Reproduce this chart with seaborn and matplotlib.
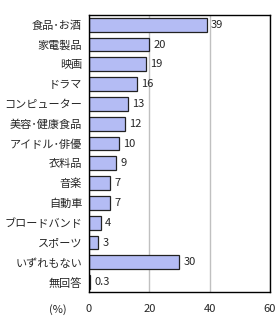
import numpy as np
import pandas as pd
import matplotlib
matplotlib.use('Agg')
import matplotlib.pyplot as plt
import seaborn as sns

# Chart data
categories = ['食品・お酒', '家電製品', '映画', 'ドラマ', 'コンピューター', '美容・健康食品',
              'アイドル・俳優', '衣料品', '音楽', '自動車', 'ブロードバンド', 'スポーツ',
              'いずれもない', '無回答']
values = [39, 20, 19, 16, 13, 12, 10, 9, 7, 7, 4, 3, 30, 0.3]
value_labels = ['39', '20', '19', '16', '13', '12', '10', '9', '7', '7', '4', '3', '30', '0.3']
x_ticks = [0, 20, 40, 60]

# half-width middle dot like the original labels
categories = [c.replace('・', '･') for c in categories]
df = pd.DataFrame({'category': categories, 'value': values})

sns.set_style('white')
plt.rcParams['font.family'] = ['Noto Sans CJK JP', 'DejaVu Sans']
fs = 8

fig = plt.figure(figsize=(2.8, 3.2), dpi=100)
ax = fig.add_axes([0.318, 0.0875, 0.646, 0.866])

sns.barplot(data=df, x='value', y='category', orient='h', ax=ax,
            color='#b4bcf4', saturation=1, width=0.7,
            edgecolor='#222222', linewidth=0.9)

ax.set_xlim(0, 60)
ax.set_xticks(x_ticks)
ax.set_xticklabels([str(t) for t in x_ticks], fontsize=fs)
ax.set_ylim(len(categories) - 0.5, -0.5)
ax.set_xlabel('')
ax.set_ylabel('')
ax.tick_params(axis='y', labelsize=fs, length=0, pad=5)
ax.tick_params(axis='x', length=0, pad=9)
ax.set_yticks(np.arange(len(categories)) + 0.5, minor=True)
ax.tick_params(axis='y', which='minor', direction='in', length=3, color='#222222', width=0.8)

ax.grid(axis='x', color='#c0c0c0', linewidth=1)
ax.set_axisbelow(True)
for s in ax.spines.values():
    s.set_color('#000000')
    s.set_linewidth(1)

ax.bar_label(ax.containers[0], labels=value_labels, padding=3, fontsize=fs)

fig.text(0.207, 0.032, '(%)', fontsize=fs, ha='center', va='center')

fig.savefig('out.png', dpi=100)
